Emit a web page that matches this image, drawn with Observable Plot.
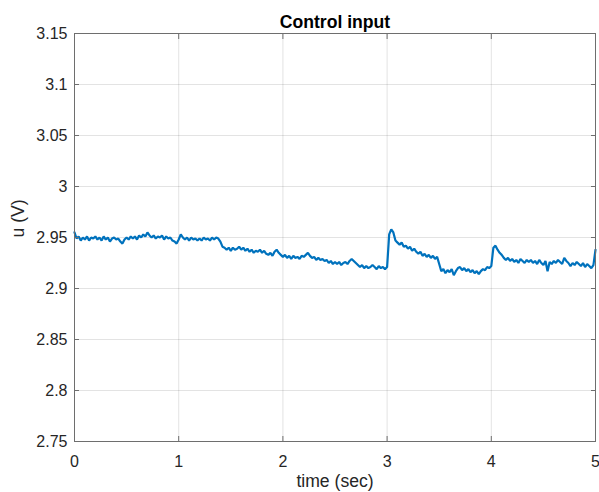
<!DOCTYPE html>
<html><head><meta charset="utf-8">
<script src="https://cdn.jsdelivr.net/npm/d3@7"></script>
<script src="https://cdn.jsdelivr.net/npm/@observablehq/plot@0.6"></script>
<style>body{margin:0;background:#fff} svg{display:block}</style>
</head><body><div id="chart"></div>
<script>
const title = "Control input";
const xLabel = "time (sec)";
const yLabel = "u (V)";
const xTicks = [0, 1, 2, 3, 4, 5];
const xTickLabels = ["0", "1", "2", "3", "4", "5"];
const yTicks = [2.75, 2.8, 2.85, 2.9, 2.95, 3, 3.05, 3.1, 3.15];
const yTickLabels = ["2.75", "2.8", "2.85", "2.9", "2.95", "3", "3.05", "3.1", "3.15"];
const samplesPerSecond = 50;
// control input u (V), sampled every 0.02 s from 0 to 5 s
const u = [
  2.955, 2.949, 2.951, 2.947, 2.950, 2.948, 2.951, 2.947, 2.950, 2.949,
  2.951, 2.948, 2.950, 2.947, 2.951, 2.948, 2.950, 2.946, 2.949, 2.950,
  2.948, 2.949, 2.946, 2.944, 2.948, 2.950, 2.948, 2.951, 2.949, 2.951,
  2.948, 2.952, 2.950, 2.953, 2.951, 2.955, 2.952, 2.950, 2.952, 2.949,
  2.951, 2.950, 2.952, 2.948, 2.951, 2.949, 2.950, 2.947, 2.946, 2.944,
  2.948, 2.953, 2.950, 2.948, 2.950, 2.947, 2.950, 2.948, 2.949, 2.947,
  2.949, 2.947, 2.950, 2.948, 2.949, 2.947, 2.950, 2.948, 2.950, 2.949,
  2.946, 2.941, 2.940, 2.938, 2.940, 2.937, 2.940, 2.938, 2.939, 2.941,
  2.938, 2.940, 2.937, 2.939, 2.936, 2.938, 2.935, 2.937, 2.936, 2.938,
  2.935, 2.937, 2.934, 2.933, 2.935, 2.932, 2.936, 2.938, 2.935, 2.933,
  2.931, 2.933, 2.930, 2.932, 2.929, 2.932, 2.930, 2.931, 2.929, 2.932,
  2.931, 2.933, 2.935, 2.932, 2.930, 2.931, 2.928, 2.930, 2.928, 2.929,
  2.927, 2.928, 2.925, 2.927, 2.924, 2.926, 2.924, 2.926, 2.923, 2.925,
  2.926, 2.924, 2.927, 2.929, 2.927, 2.925, 2.923, 2.921, 2.923, 2.920,
  2.922, 2.920, 2.921, 2.923, 2.921, 2.919, 2.922, 2.920, 2.921, 2.919,
  2.921, 2.953, 2.958, 2.955, 2.947, 2.945, 2.943, 2.945, 2.941, 2.942,
  2.939, 2.941, 2.937, 2.939, 2.936, 2.934, 2.936, 2.932, 2.934, 2.931,
  2.933, 2.930, 2.932, 2.929, 2.931, 2.924, 2.917, 2.919, 2.915, 2.918,
  2.916, 2.919, 2.913, 2.917, 2.920, 2.921, 2.918, 2.920, 2.917, 2.919,
  2.916, 2.918, 2.915, 2.917, 2.914, 2.917, 2.919, 2.918, 2.921, 2.920,
  2.922, 2.940, 2.942, 2.938, 2.935, 2.933, 2.930, 2.928, 2.930, 2.927,
  2.929, 2.926, 2.928, 2.925, 2.929, 2.927, 2.925, 2.928, 2.926, 2.928,
  2.925, 2.927, 2.924, 2.928, 2.925, 2.923, 2.927, 2.917, 2.926, 2.924,
  2.927, 2.925, 2.928, 2.926, 2.924, 2.930, 2.927, 2.925, 2.922, 2.925,
  2.923, 2.926, 2.924, 2.922, 2.925, 2.921, 2.924, 2.922, 2.920, 2.923,
  2.938
];
const data = u.map((v, i) => ({t: i / samplesPerSecond, u: v}));

const axisColor = "#6e6e6e";
const gridColor = "#262626";
const chart = Plot.plot({
  width: 599,
  height: 492,
  marginLeft: 74,
  marginRight: 4,
  marginTop: 33,
  marginBottom: 51,
  style: {fontFamily: "'Liberation Sans', Arial, Helvetica, sans-serif", fontSize: "16px", color: "#262626", background: "#fff"},
  x: {domain: [0, 5], axis: null},
  y: {domain: [2.75, 3.15], axis: null},
  marks: [
    Plot.gridX(xTicks, {stroke: gridColor, strokeOpacity: 0.13}),
    Plot.gridY(yTicks, {stroke: gridColor, strokeOpacity: 0.13}),
    Plot.line(data, {x: "t", y: "u", stroke: "#0072BD", strokeWidth: 2.2, strokeLinejoin: "miter"}),
    Plot.frame({stroke: axisColor}),
    Plot.axisX(xTicks, {anchor: "bottom", tickSize: 5, dy: -5, tickFormat: () => "", label: null, stroke: axisColor}),
    Plot.axisX(xTicks, {anchor: "top", tickSize: 5, dy: 5, tickFormat: () => "", label: null, stroke: axisColor}),
    Plot.axisY(yTicks, {anchor: "left", tickSize: 5, dx: 5, tickFormat: () => "", label: null, stroke: axisColor}),
    Plot.axisY(yTicks, {anchor: "right", tickSize: 5, dx: -5, tickFormat: () => "", label: null, stroke: axisColor}),
    Plot.axisX(xTicks, {anchor: "bottom", tickSize: 0, tickPadding: 14, label: null, fontSize: 16,
      tickFormat: d => xTickLabels[xTicks.indexOf(d)]}),
    Plot.axisY(yTicks, {anchor: "left", tickSize: 0, tickPadding: 7, label: null, fontSize: 16,
      tickFormat: d => yTickLabels[yTicks.indexOf(d)]}),
    Plot.text([title], {frameAnchor: "top", lineAnchor: "middle", dy: -11, fontWeight: "bold", fontSize: 17.6, fill: "#000"}),
    Plot.text([xLabel], {frameAnchor: "bottom", lineAnchor: "middle", dy: 40, fontSize: 17.6}),
    Plot.text([yLabel], {frameAnchor: "left", lineAnchor: "middle", dx: -56, rotate: -90, fontSize: 17.6})
  ]
});
document.getElementById("chart").append(chart);
</script>
</body></html>
